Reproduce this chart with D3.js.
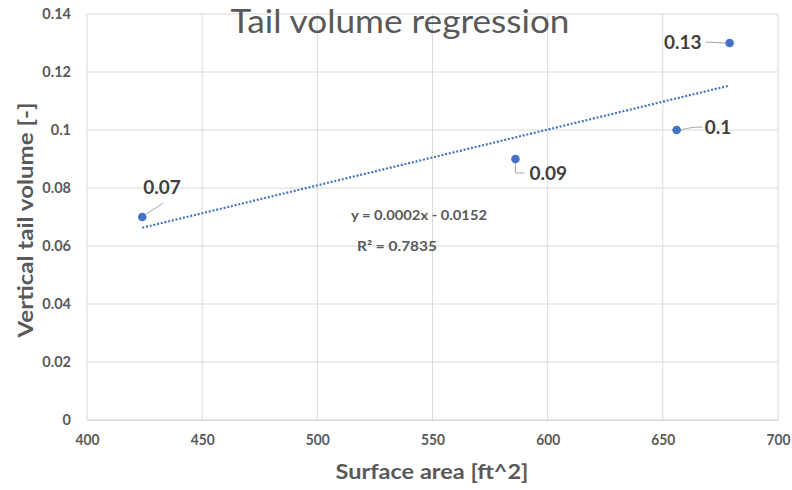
<!DOCTYPE html>
<html>
<head>
<meta charset="utf-8">
<script src="https://cdn.jsdelivr.net/npm/d3@7"></script>
<style>
  html, body { margin: 0; padding: 0; background: #fff; }
  svg { display: block; }
  text { font-family: Lato, "Open Sans", sans-serif; }
</style>
</head>
<body>
<svg id="chart" width="792" height="490"></svg>
<script>
// Tail sizing data: wetted surface area vs. vertical tail volume coefficient
const surfaceArea = [424, 586, 656, 679];
const tailVolume = [0.07, 0.09, 0.1, 0.13];
const xTicks = [400, 450, 500, 550, 600, 650, 700];
const yTicks = [0, 0.02, 0.04, 0.06, 0.08, 0.1, 0.12, 0.14];
const chartTitle = "Tail volume regression";
const xTitle = "Surface area [ft^2]";
const yTitle = "Vertical tail volume [-]";
const equationText = "y = 0.0002x - 0.0152";
const r2Text = "R² = 0.7835";

// label placement for each point: offset of label anchor, plus leader style
const labelOffsets = [
  { dx: 1, dy: -30, anchor: "start", leader: "diag" },
  { dx: 14, dy: 14, anchor: "start", leader: "elbow" },
  { dx: 28, dy: -3, anchor: "start", leader: "curve" },
  { dx: -28, dy: -1, anchor: "end", leader: "flat" }
];

const svg = d3.select("#chart");
const margin = { left: 87, right: 14, top: 14, bottom: 70 };
const W = 792, H = 490;

const x = d3.scaleLinear().domain([400, 700]).range([margin.left, W - margin.right]);
const y = d3.scaleLinear().domain([0, 0.14]).range([H - margin.bottom, margin.top]);

const textColor = "#595959";
const gridColor = "#d9d9d9";
const blue = "#4472c4";

// gridlines
svg.append("g").selectAll("line.v").data(xTicks).join("line")
  .attr("x1", d => x(d)).attr("x2", d => x(d))
  .attr("y1", y(0)).attr("y2", y(0.14))
  .attr("stroke", gridColor).attr("stroke-width", 1);
svg.append("g").selectAll("line.h").data(yTicks).join("line")
  .attr("x1", x(400)).attr("x2", x(700))
  .attr("y1", d => y(d)).attr("y2", d => y(d))
  .attr("stroke", gridColor).attr("stroke-width", 1);

// axes (labels only; gridlines carry the structure)
const xAxis = svg.append("g")
  .attr("transform", `translate(0,${y(0)})`)
  .call(d3.axisBottom(x).tickValues(xTicks).tickSize(0).tickPadding(14).tickFormat(d3.format("d")));
xAxis.select(".domain").attr("stroke", gridColor);
xAxis.selectAll("text")
  .attr("fill", textColor).attr("font-size", 15).attr("font-weight", 700)
  .attr("textLength", 24).attr("lengthAdjust", "spacingAndGlyphs");

const yAxis = svg.append("g")
  .attr("transform", `translate(${x(400)},0)`)
  .call(d3.axisLeft(y).tickValues(yTicks).tickSize(0).tickPadding(16).tickFormat(d => d === 0 ? "0" : d3.format(".2~f")(d)));
yAxis.select(".domain").remove();
yAxis.selectAll("text")
  .attr("fill", textColor).attr("font-size", 14.5).attr("font-weight", 700);

// title
svg.append("text")
  .attr("x", 400).attr("y", 33)
  .attr("text-anchor", "middle")
  .attr("fill", textColor)
  .attr("font-size", 33).attr("font-weight", 400)
  .attr("textLength", 339).attr("lengthAdjust", "spacingAndGlyphs")
  .text(chartTitle);

// axis titles
svg.append("text")
  .attr("x", 432).attr("y", 479)
  .attr("text-anchor", "middle")
  .attr("fill", textColor).attr("font-size", 21).attr("font-weight", 700)
  .attr("textLength", 193).attr("lengthAdjust", "spacingAndGlyphs")
  .text(xTitle);
svg.append("text")
  .attr("transform", `translate(33,220) rotate(-90)`)
  .attr("text-anchor", "middle")
  .attr("fill", textColor).attr("font-size", 21).attr("font-weight", 700)
  .attr("textLength", 235).attr("lengthAdjust", "spacingAndGlyphs")
  .text(yTitle);

// least-squares trendline over the data range
const n = surfaceArea.length;
const mx = d3.mean(surfaceArea), my = d3.mean(tailVolume);
let sxy = 0, sxx = 0;
for (let i = 0; i < n; i++) {
  sxy += (surfaceArea[i] - mx) * (tailVolume[i] - my);
  sxx += (surfaceArea[i] - mx) ** 2;
}
const slope = sxy / sxx, intercept = my - slope * mx;
const [x0, x1] = d3.extent(surfaceArea);
svg.append("line")
  .attr("x1", x(x0)).attr("y1", y(slope * x0 + intercept))
  .attr("x2", x(x1)).attr("y2", y(slope * x1 + intercept))
  .attr("stroke", blue).attr("stroke-width", 2.2)
  .attr("stroke-dasharray", "2 1.8");

// equation and R² labels
svg.append("text").attr("x", 351).attr("y", 220)
  .attr("fill", textColor).attr("font-size", 13).attr("font-weight", 700)
  .attr("textLength", 136).attr("lengthAdjust", "spacingAndGlyphs")
  .text(equationText);
svg.append("text").attr("x", 357).attr("y", 251)
  .attr("fill", textColor).attr("font-size", 13).attr("font-weight", 700)
  .attr("textLength", 80).attr("lengthAdjust", "spacingAndGlyphs")
  .text(r2Text);

const pts = surfaceArea.map((a, i) => ({ a, v: tailVolume[i], o: labelOffsets[i] }));

// leader lines
const leader = svg.append("g").attr("fill", "none").attr("stroke", "#a6a6a6").attr("stroke-width", 1);
pts.forEach(p => {
  const px = x(p.a), py = y(p.v);
  let path;
  if (p.o.leader === "diag") path = `M${px + 4},${py - 3} L${px + 21},${py - 14}`;
  else if (p.o.leader === "elbow") path = `M${px},${py + 4} L${px},${py + 14} L${px + 9},${py + 14}`;
  else if (p.o.leader === "curve") path = `M${px + 4},${py} C${px + 12},${py - 2} ${px + 16},${py - 3} ${px + 26},${py - 3}`;
  else path = `M${px - 4},${py} L${px - 24},${py - 1}`;
  leader.append("path").attr("d", path);
});

// data points
svg.append("g").selectAll("circle").data(pts).join("circle")
  .attr("cx", d => x(d.a)).attr("cy", d => y(d.v))
  .attr("r", 4.3).attr("fill", blue);

// data labels
svg.append("g").selectAll("text").data(pts).join("text")
  .attr("x", d => x(d.a) + d.o.dx).attr("y", d => y(d.v) + d.o.dy)
  .attr("dy", "0.35em")
  .attr("text-anchor", d => d.o.anchor)
  .attr("fill", "#404040").attr("font-size", 19).attr("font-weight", 700)
  .text(d => d3.format(".2~f")(d.v));
</script>
</body>
</html>
